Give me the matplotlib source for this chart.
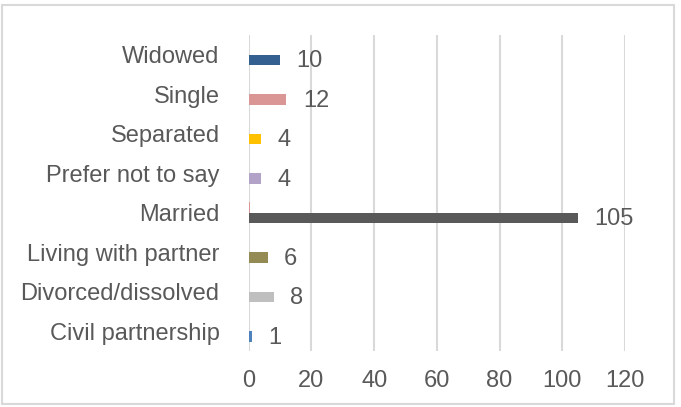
import matplotlib.pyplot as plt
from matplotlib.patches import Rectangle
import numpy as np

plt.rcParams['font.family'] = ['Liberation Sans', 'DejaVu Sans']

# categories listed top to bottom as they appear
categories = ["Widowed", "Single", "Separated", "Prefer not to say", "Married",
              "Living with partner", "Divorced/dissolved", "Civil partnership"]
counts = [10, 12, 4, 4, 105, 6, 8, 1]
bar_colors = ["#335F91", "#DA9694", "#FFC000", "#B3A2C7", "#595959",
              "#948A54", "#BFBFBF", "#4F81BD"]
# second (nearly empty) series, only visible next to "Married"
extra_counts = [0, 0, 0, 0, 0.5, 0, 0, 0]
extra_color = "#DA9694"

text_color = "#595959"
grid_color = "#D9D9D9"

fig = plt.figure(figsize=(6.81, 4.07), dpi=100)
ax = fig.add_axes([248.7 / 681, 1 - 351 / 407, (625 - 248.7) / 681, (351 - 35) / 407])

y = np.arange(len(categories))
h = 0.26
ax.barh(y - h / 2, extra_counts, height=h, color=extra_color)
bars = ax.barh(y + h / 2, counts, height=h, color=bar_colors)

for rect, val in zip(bars, counts):
    ax.annotate(str(val), (rect.get_width(), rect.get_y() + rect.get_height() / 2),
                xytext=(12, -1), textcoords="offset points",
                ha="left", va="center", fontsize=17, color=text_color)

ax.set_xlim(0, 120)
ax.set_ylim(len(categories) - 0.5, -0.5)
ax.set_xticks(np.arange(0, 121, 20))
ax.set_yticks(y)
ax.set_yticklabels(categories)

ax.grid(axis="x", color=grid_color, linewidth=1.5)
ax.set_axisbelow(True)
for s in ax.spines.values():
    s.set_visible(False)
ax.tick_params(axis="both", length=0, labelsize=17, labelcolor=text_color)
ax.tick_params(axis="x", pad=14)
ax.tick_params(axis="y", pad=21)

# light frame around the whole chart
fig.patches.append(Rectangle((2 / 681, 3 / 407), 672 / 681, 399 / 407,
                             transform=fig.transFigure, fill=False,
                             edgecolor=grid_color, linewidth=1.5))

fig.savefig("out.png", dpi=100)
